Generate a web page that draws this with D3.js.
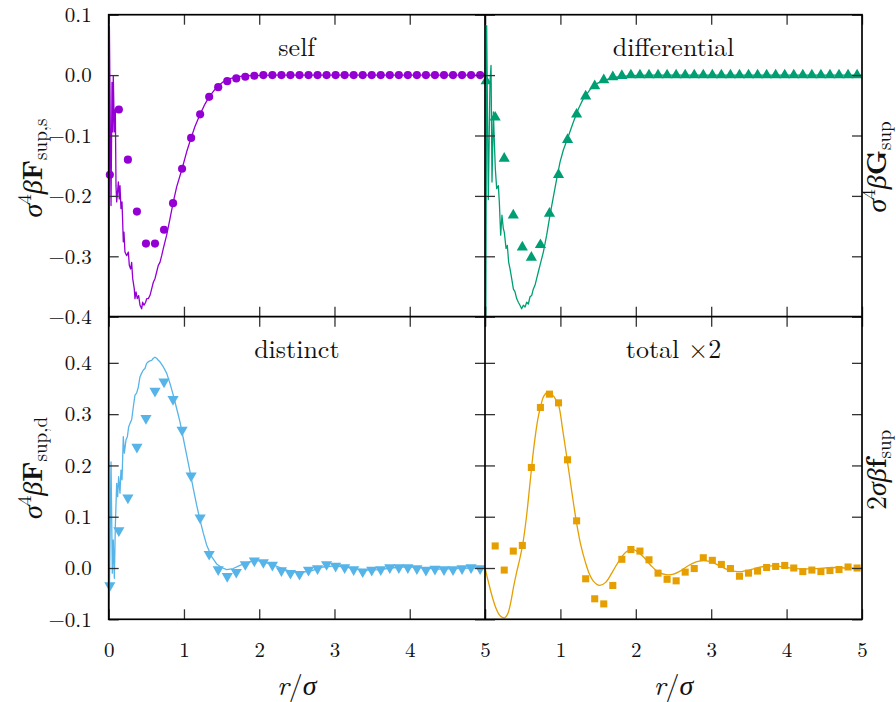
<!DOCTYPE html>
<html>
<head>
<meta charset="utf-8">
<script src="https://cdn.jsdelivr.net/npm/d3@7"></script>
<style>
  body { margin: 0; background: #fff; }
  svg { display: block; }
</style>
</head>
<body>
<svg id="chart" width="896" height="702"></svg>
<script>
// Sample positions shared by all four marker series (r / sigma)
const rGrid = [0.015, 0.135, 0.255, 0.375, 0.495, 0.615, 0.735, 0.855, 0.975, 1.095,
  1.215, 1.335, 1.455, 1.575, 1.695, 1.815, 1.935, 2.055, 2.175, 2.295,
  2.415, 2.535, 2.655, 2.775, 2.895, 3.015, 3.135, 3.255, 3.375, 3.495,
  3.615, 3.735, 3.855, 3.975, 4.095, 4.215, 4.335, 4.455, 4.575, 4.695,
  4.815, 4.935];

// Marker series (theory)
const selfPts = [-0.165, -0.057, -0.140, -0.226, -0.279, -0.279, -0.256, -0.212, -0.155, -0.104,
  -0.065, -0.036, -0.020, -0.010, -0.0055, -0.0027, -0.001, 0, 0, 0,
  0, 0, 0, 0, 0, 0, 0, 0, 0, 0,
  0, 0, 0, 0, 0, 0, 0, 0, 0, 0,
  0, 0];
const diffPts = [-0.010, -0.070, -0.138, -0.232, -0.285, -0.302, -0.281, -0.229, -0.165, -0.107,
  -0.065, -0.035, -0.018, -0.008, -0.003, -0.001, 0, 0, 0, 0,
  0, 0, 0, 0, 0, 0, 0, 0, 0, 0,
  0, 0, 0, 0, 0, 0, 0, 0, 0, 0,
  0, 0];
const distPts = [-0.034, 0.073, 0.137, 0.236, 0.292, 0.345, 0.363, 0.329, 0.269, 0.180,
  0.098, 0.027, -0.003, -0.016, -0.008, 0.007, 0.014, 0.011, 0.006, -0.005,
  -0.010, -0.012, -0.004, -0.001, 0.007, 0.004, 0.001, -0.003, -0.007, -0.004,
  -0.003, 0.001, 0.001, 0.001, -0.001, -0.004, -0.002, -0.003, -0.003, -0.001,
  0.001, -0.001];
const totalPts = [null, 0.043, -0.004, 0.033, 0.044, 0.196, 0.313, 0.339, 0.322, 0.211,
  0.092, -0.021, -0.060, -0.070, -0.034, 0.017, 0.036, 0.033, 0.016, -0.010,
  -0.022, -0.025, -0.008, -0.001, 0.020, 0.015, 0.007, -0.001, -0.016, -0.010,
  -0.006, 0.001, 0.003, 0.005, 0.000, -0.007, -0.004, -0.007, -0.005, -0.003,
  0.002, 0.000];

// Simulation curves as [r, value]
const selfCurve = [[0.006, -0.45], [0.009, 0.082], [0.031, -0.216], [0.044, -0.012], [0.053, -0.094],
  [0.061, -0.001], [0.075, -0.094], [0.088, -0.056], [0.097, -0.183], [0.106, -0.210],
  [0.128, -0.177], [0.141, -0.205], [0.150, -0.183], [0.163, -0.221], [0.177, -0.210],
  [0.194, -0.276], [0.203, -0.260], [0.216, -0.293], [0.239, -0.299], [0.261, -0.293],
  [0.274, -0.315], [0.292, -0.321], [0.305, -0.310], [0.319, -0.337], [0.340, -0.354],
  [0.349, -0.370], [0.363, -0.359], [0.380, -0.370], [0.398, -0.365], [0.416, -0.381],
  [0.438, -0.387], [0.451, -0.376], [0.469, -0.381], [0.491, -0.376], [0.505, -0.370],
  [0.526, -0.370], [0.548, -0.365], [0.571, -0.354], [0.593, -0.343], [0.615, -0.337],
  [0.637, -0.326], [0.659, -0.315], [0.681, -0.310], [0.704, -0.299], [0.726, -0.287],
  [0.770, -0.265], [0.814, -0.238], [0.855, -0.212], [0.903, -0.185], [0.975, -0.155],
  [1.036, -0.127], [1.095, -0.104], [1.146, -0.085], [1.215, -0.065], [1.279, -0.048],
  [1.335, -0.036], [1.434, -0.020], [1.522, -0.011], [1.611, -0.006], [1.744, -0.002],
  [1.876, -0.001], [2.2, 0], [5.0, 0]];
const diffCurve = [[0.010, -0.45], [0.022, 0.082], [0.044, -0.206], [0.066, -0.012], [0.080, 0.016],
  [0.093, -0.177], [0.111, -0.061], [0.124, -0.111], [0.137, -0.155], [0.155, -0.188],
  [0.177, -0.183], [0.190, -0.210], [0.208, -0.265], [0.225, -0.232], [0.243, -0.254],
  [0.256, -0.260], [0.279, -0.287], [0.296, -0.282], [0.314, -0.310], [0.332, -0.321],
  [0.354, -0.337], [0.376, -0.354], [0.398, -0.359], [0.420, -0.370], [0.442, -0.376],
  [0.464, -0.381], [0.486, -0.387], [0.508, -0.381], [0.531, -0.384], [0.553, -0.376],
  [0.575, -0.379], [0.597, -0.367], [0.619, -0.365], [0.641, -0.354], [0.663, -0.348],
  [0.685, -0.337], [0.707, -0.326], [0.729, -0.315], [0.774, -0.293], [0.818, -0.265],
  [0.862, -0.232], [0.906, -0.202], [0.951, -0.172], [0.995, -0.144], [1.039, -0.124],
  [1.095, -0.105], [1.171, -0.078], [1.238, -0.056], [1.304, -0.039], [1.393, -0.024],
  [1.481, -0.014], [1.569, -0.009], [1.702, -0.004], [1.923, -0.001], [2.2, 0], [5.0, 0]];
const distCurve = [[0.006, -0.082], [0.031, 0.207], [0.048, -0.010], [0.061, 0.055], [0.075, -0.020],
  [0.088, 0.081], [0.106, 0.165], [0.119, 0.139], [0.132, 0.178], [0.150, 0.146],
  [0.163, 0.191], [0.177, 0.172], [0.194, 0.256], [0.208, 0.224], [0.230, 0.250],
  [0.248, 0.256], [0.265, 0.275], [0.283, 0.282], [0.305, 0.289], [0.327, 0.314],
  [0.349, 0.337], [0.371, 0.341], [0.394, 0.353], [0.416, 0.373], [0.438, 0.380],
  [0.460, 0.386], [0.482, 0.389], [0.504, 0.399], [0.526, 0.402], [0.548, 0.404],
  [0.571, 0.405], [0.593, 0.409], [0.615, 0.411], [0.637, 0.409], [0.659, 0.405],
  [0.681, 0.402], [0.726, 0.392], [0.770, 0.380], [0.814, 0.360], [0.858, 0.337],
  [0.903, 0.311], [0.947, 0.285], [0.991, 0.253], [1.036, 0.220], [1.080, 0.188],
  [1.124, 0.155], [1.168, 0.123], [1.213, 0.094], [1.257, 0.068], [1.301, 0.045],
  [1.368, 0.022], [1.434, 0.008], [1.500, 0.001], [1.567, -0.003], [1.655, -0.001],
  [1.744, 0.005], [1.832, 0.010], [1.921, 0.014], [2.009, 0.014], [2.098, 0.010],
  [2.186, 0.006], [2.275, 0.001], [2.4, -0.006], [2.55, -0.009], [2.7, -0.005],
  [2.85, 0.002], [3.0, 0.004], [3.15, 0.002], [3.3, -0.002], [3.45, -0.004],
  [3.6, -0.003], [3.75, 0.0], [3.9, 0.002], [4.05, 0.002], [4.2, 0.0],
  [4.4, -0.002], [4.6, -0.001], [4.8, 0.0], [5.0, 0.0]];
const totalCurve = [[0, 0], [0.05, -0.030], [0.10, -0.058], [0.15, -0.080], [0.20, -0.093],
  [0.26, -0.097], [0.30, -0.090], [0.34, -0.068], [0.38, -0.036], [0.42, -0.008],
  [0.46, 0.017], [0.50, 0.046], [0.55, 0.100], [0.60, 0.170], [0.65, 0.238],
  [0.70, 0.290], [0.735, 0.313], [0.78, 0.335], [0.84, 0.344], [0.88, 0.340],
  [0.92, 0.333], [0.975, 0.318], [1.03, 0.270], [1.09, 0.211], [1.15, 0.150],
  [1.21, 0.092], [1.27, 0.045], [1.33, 0.012], [1.38, -0.010], [1.44, -0.026],
  [1.52, -0.034], [1.60, -0.028], [1.70, -0.005], [1.80, 0.019], [1.87, 0.031],
  [1.94, 0.037], [2.0, 0.034], [2.1, 0.022], [2.2, 0.005], [2.3, -0.008],
  [2.4, -0.013], [2.5, -0.012], [2.6, -0.005], [2.7, 0.005], [2.8, 0.012],
  [2.9, 0.015], [3.0, 0.012], [3.1, 0.005], [3.2, -0.002], [3.3, -0.006],
  [3.4, -0.007], [3.5, -0.004], [3.6, 0.000], [3.7, 0.003], [3.8, 0.004],
  [3.9, 0.003], [4.0, 0.001], [4.2, -0.002], [4.4, -0.001], [4.6, 0.001],
  [4.8, 0.000], [5.0, 0.000]];

// Axis tick values
const xTicks = [0, 1, 2, 3, 4, 5];
const yTicksTop = [-0.4, -0.3, -0.2, -0.1, 0.0, 0.1];
const yTicksBottom = [-0.1, 0.0, 0.1, 0.2, 0.3, 0.4];
const panelTitles = ["self", "differential", "distinct", "total \u00d72"];

// ---- layout ----
const FONT = '"Latin Modern Roman", "Liberation Serif", serif';
const svg = d3.select("#chart");
const cols = [[108.7, 485], [485, 862]];
const rows = [[14.7, 316.7], [316.7, 619.3]];
const rowDomains = [[-0.4, 0.1], [-0.1, 0.49]];
const rowTicks = [yTicksTop, yTicksBottom];

const panels = [
  { col: 0, row: 0, pts: selfPts, curve: selfCurve, color: "#9400D3", sym: "circle", title: panelTitles[0] },
  { col: 1, row: 0, pts: diffPts, curve: diffCurve, color: "#009E73", sym: "up", title: panelTitles[1] },
  { col: 0, row: 1, pts: distPts, curve: distCurve, color: "#56B4E9", sym: "down", title: panelTitles[2] },
  { col: 1, row: 1, pts: totalPts, curve: totalCurve, color: "#E69F00", sym: "square", title: panelTitles[3], smooth: true }
];

const fmt = d3.format(".1f");

panels.forEach((p, i) => {
  const [x0, x1] = cols[p.col];
  const [y0, y1] = rows[p.row];
  const x = d3.scaleLinear().domain([0, 5]).range([x0, x1]);
  const y = d3.scaleLinear().domain(rowDomains[p.row]).range([y1, y0]);
  p.x = x; p.y = y;

  svg.append("clipPath").attr("id", "clip" + i)
    .append("rect").attr("x", x0).attr("y", y0).attr("width", x1 - x0).attr("height", y1 - y0);

  const g = svg.append("g");

  // simulation curve
  const line = d3.line().x(d => x(d[0])).y(d => y(d[1]))
    .curve(p.smooth ? d3.curveCatmullRom : d3.curveLinear);
  g.append("path").datum(p.curve)
    .attr("clip-path", `url(#clip${i})`)
    .attr("d", line)
    .attr("fill", "none")
    .attr("stroke", p.color)
    .attr("stroke-width", 1.3)
    .attr("stroke-linejoin", "round");

  // markers
  const pts = rGrid.map((r, k) => ({ r, v: p.pts[k] })).filter(d => d.v !== null);
  let symType, size, rot = 0;
  if (p.sym === "circle") { symType = d3.symbolCircle; size = 52; }
  else if (p.sym === "square") { symType = d3.symbolSquare; size = 50; }
  else { symType = d3.symbolTriangle; size = 54; if (p.sym === "down") rot = 180; }
  const sym = d3.symbol().type(symType).size(size);
  g.selectAll("path.m").data(pts).join("path")
    .attr("class", "m")
    .attr("d", sym)
    .attr("transform", d => `translate(${x(d.r)},${y(d.v)}) rotate(${rot})`)
    .attr("fill", p.color);

  // title
  svg.append("text")
    .attr("x", (x0 + x1) / 2)
    .attr("y", y0 + 41)
    .attr("text-anchor", "middle")
    .style("font-family", FONT)
    .style("font-size", "26px")
    .attr("fill", "#111")
    .text(p.title);
});

// ---- axes ----
function styleAxis(sel) {
  sel.select(".domain").remove();
  sel.selectAll(".tick line").attr("stroke", "#333").attr("stroke-width", 1.3);
  sel.selectAll("text")
    .style("font-family", FONT)
    .style("font-size", "21px")
    .attr("fill", "#111");
}

panels.forEach(p => {
  const [x0, x1] = cols[p.col];
  const [y0, y1] = rows[p.row];
  const ticks = rowTicks[p.row];

  const left = d3.axisLeft(p.y).tickValues(ticks).tickSize(-10).tickPadding(17)
    .tickFormat(p.col === 0 ? fmt : () => "");
  svg.append("g").attr("transform", `translate(${x0},0)`).call(left).call(styleAxis);

  const right = d3.axisRight(p.y).tickValues(ticks).tickSize(-10).tickFormat(() => "");
  svg.append("g").attr("transform", `translate(${x1},0)`).call(right).call(styleAxis);

  const top = d3.axisTop(p.x).tickValues(xTicks).tickSize(-10).tickFormat(() => "");
  svg.append("g").attr("transform", `translate(0,${y0})`).call(top).call(styleAxis);

  const bottom = d3.axisBottom(p.x).tickValues(xTicks).tickSize(-10).tickPadding(23)
    .tickFormat(d => (p.row === 1 && !(p.col === 1 && d === 0)) ? d3.format("d")(d) : "");
  svg.append("g").attr("transform", `translate(0,${y1})`).call(bottom).call(styleAxis);
});

// frame and dividers
const frame = svg.append("g").attr("stroke", "#000").attr("stroke-width", 1.7).attr("fill", "none");
frame.append("rect").attr("x", cols[0][0]).attr("y", rows[0][0])
  .attr("width", cols[1][1] - cols[0][0]).attr("height", rows[1][1] - rows[0][0]);
frame.append("line").attr("x1", cols[0][1]).attr("x2", cols[0][1]).attr("y1", rows[0][0]).attr("y2", rows[1][1]);
frame.append("line").attr("x1", cols[0][0]).attr("x2", cols[1][1]).attr("y1", rows[0][1]).attr("y2", rows[0][1]);

// ---- axis labels ----
function yLabel(cx, cy, parts) {
  const t = svg.append("text")
    .attr("transform", `translate(${cx},${cy}) rotate(-90)`)
    .attr("text-anchor", "middle")
    .style("font-family", FONT)
    .style("font-size", "28px")
    .attr("fill", "#111");
  parts.forEach(([s, style]) => {
    const ts = t.append("tspan").text(s);
    if (style === "i") ts.style("font-style", "italic");
    if (style === "b") ts.style("font-weight", "bold");
    if (style === "sup") ts.style("font-size", "19px").attr("dy", -11);
    if (style === "supi") ts.style("font-style", "italic").attr("dy", 11);
    if (style === "sub") ts.style("font-size", "19px").attr("dy", 5);
  });
  return t;
}
yLabel(42, 168, [["σ", "i"], ["4", "sup"], ["β", "supi"], ["F", "b"], ["sup,s", "sub"]]);
yLabel(42, 468, [["σ", "i"], ["4", "sup"], ["β", "supi"], ["F", "b"], ["sup,d", "sub"]]);
yLabel(886, 167, [["σ", "i"], ["4", "sup"], ["β", "supi"], ["G", "b"], ["sup", "sub"]]);
yLabel(886, 470, [["2", ""], ["σβ", "i"], ["f", "b"], ["sup", "sub"]]);

[cols[0], cols[1]].forEach(([a, b]) => {
  const t = svg.append("text")
    .attr("x", (a + b) / 2).attr("y", 695)
    .attr("text-anchor", "middle")
    .style("font-family", FONT)
    .style("font-size", "28px")
    .attr("fill", "#111");
  t.append("tspan").style("font-style", "italic").text("r");
  t.append("tspan").text("/");
  t.append("tspan").style("font-style", "italic").text("σ");
});
</script>
</body>
</html>
